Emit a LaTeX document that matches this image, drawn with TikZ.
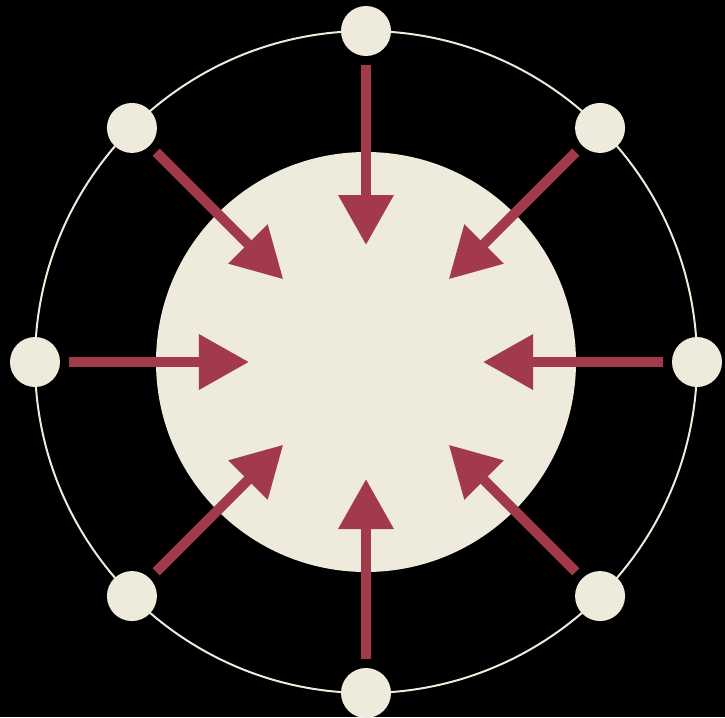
\documentclass[tikz,border=0pt]{standalone}
\usetikzlibrary{arrows.meta}
\definecolor{cream}{HTML}{EFEBDC}
\definecolor{arrowred}{HTML}{A23A4B}
\tikzset{
  dot/.style={circle,fill=cream,minimum size=1cm,inner sep=0pt},
  push/.style={arrowred,line width=0.2cm,-{Triangle[length=1cm,width=1.06cm]},shorten <=0.18cm}
}
\begin{document}
\begin{tikzpicture}

	\def\R{6.62}
	\def\r{4.2}
	\def\tip{2.34}
	\fill[black] (-7.32,-7.1) rectangle (7.18,7.24);
	\useasboundingbox (-7.32,-7.1) rectangle (7.18,7.24);
	\draw[cream,line width=0.04cm] (0,0) circle (\R);
	\node[circle,fill=cream,minimum size=2*\r cm,inner sep=0pt] (core) at (0,0) {};
	\foreach \a in {0,45,...,315}{
		\node[dot] (p\a) at (\a:\R) {};
		\coordinate (t\a) at (\a:\tip);
		\draw[push] (p\a) -- (t\a);
	}

\end{tikzpicture}
\end{document}
